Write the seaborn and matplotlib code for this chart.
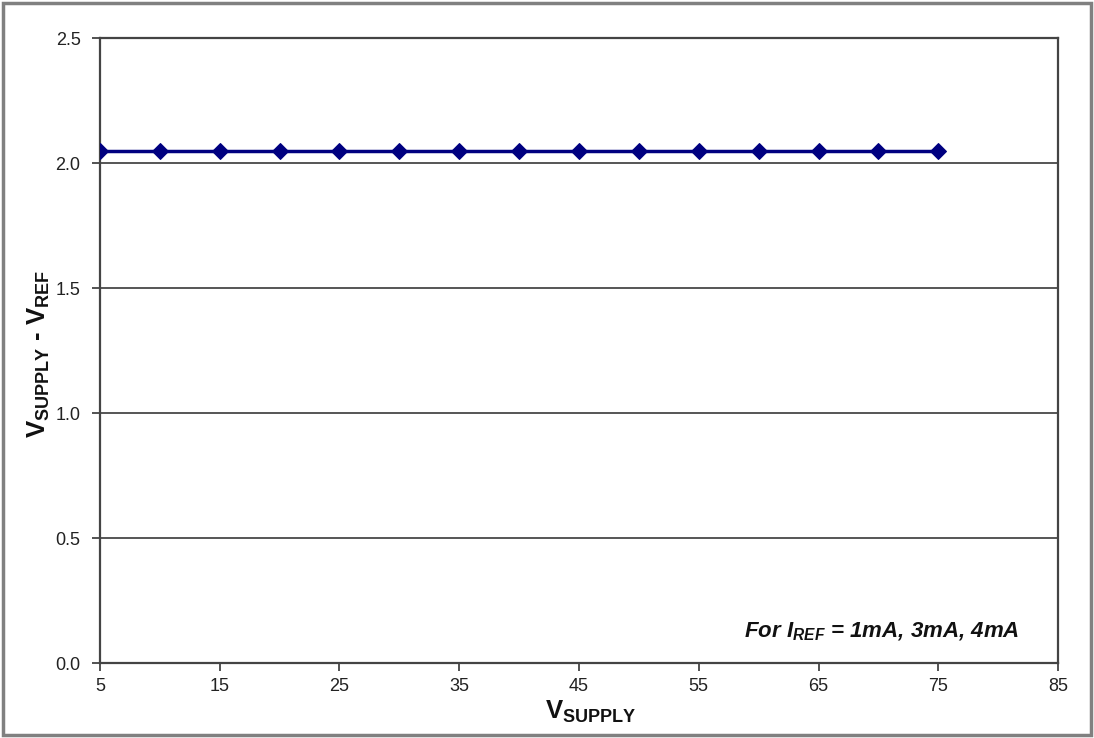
import matplotlib
matplotlib.use("Agg")
import matplotlib.pyplot as plt
import seaborn as sns
import pandas as pd
from matplotlib.patches import Rectangle

# data
v_supply = [5, 10, 15, 20, 25, 30, 35, 40, 45, 50, 55, 60, 65, 70, 75]
v_diff = [2.05, 2.05, 2.05, 2.05, 2.05, 2.05, 2.05, 2.05, 2.05, 2.05, 2.05, 2.05, 2.05, 2.05, 2.05]
x_ticks = [5, 15, 25, 35, 45, 55, 65, 75, 85]
y_ticks = [0.0, 0.5, 1.0, 1.5, 2.0, 2.5]

df = pd.DataFrame({'vsupply': v_supply, 'vdiff': v_diff})

sns.set_style('white')
plt.rcParams['font.family'] = ['Liberation Sans', 'DejaVu Sans']
plt.rcParams['mathtext.default'] = 'regular'

fig = plt.figure(figsize=(10.94, 7.38), dpi=100)
ax = fig.add_axes([0.0914, 0.1016, 0.8757, 0.8469])

# outer frame around the whole picture
fig.patches.append(Rectangle((0.003, 0.004), 0.994, 0.992, transform=fig.transFigure,
                             fill=False, edgecolor='#808080', linewidth=2.5))

for y in y_ticks[1:-1]:
    ax.axhline(y, color='#555555', linewidth=1.4, zorder=1)

sns.lineplot(data=df, x='vsupply', y='vdiff', ax=ax, color='#000080', linewidth=2.5,
             marker='D', markersize=8, markeredgecolor='#000080', zorder=3)

ax.set_xlim(5, 85)
ax.set_ylim(0, 2.5)
ax.set_xticks(x_ticks)
ax.set_yticks(y_ticks)
ax.set_yticklabels([f'{v:.1f}' for v in y_ticks])
ax.tick_params(axis='both', direction='out', length=6, width=1.3, color='#444444',
               labelsize=13, labelcolor='#222222')
ax.tick_params(axis='x', bottom=True, pad=5)
ax.tick_params(axis='y', left=True, pad=8)
for sp in ax.spines.values():
    sp.set_color('#444444')
    sp.set_linewidth(1.6)

ax.set_xlabel(r'V$_{SUPPLY}$', fontsize=18.5, fontweight='bold', color='#111111')
ax.set_ylabel(r'V$_{SUPPLY}$ - V$_{REF}$', fontsize=18.5, fontweight='bold', color='#111111')
ax.xaxis.set_label_coords(0.512, -0.058)
ax.yaxis.set_label_coords(-0.050, 0.494)

ax.text(0.96, 0.032, r'For I$_{REF}$ = 1mA, 3mA, 4mA', transform=ax.transAxes,
        ha='right', va='bottom', fontsize=16, fontweight='bold', fontstyle='italic',
        color='#111111')

fig.savefig('out.png', dpi=100)
